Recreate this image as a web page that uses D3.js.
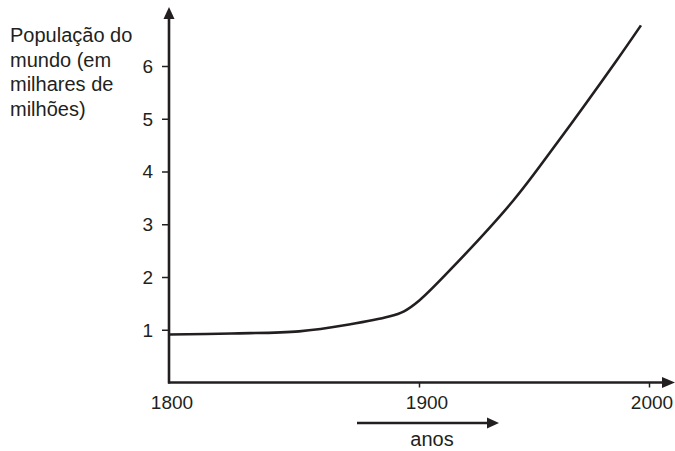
<!DOCTYPE html>
<html>
<head>
<meta charset="utf-8">
<script src="https://cdn.jsdelivr.net/npm/d3@7"></script>
<style>
  body { margin: 0; background: #fff; }
  svg text { font-family: "Liberation Sans", Arial, sans-serif; fill: #231f20; }
</style>
</head>
<body>
<svg width="675" height="451"></svg>
<script>
// data
let years = [1800, 1825, 1852, 1872, 1888, 1894, 1900, 1915, 1941, 1960, 1986, 1996.5];
let population = [0.91, 0.93, 0.97, 1.1, 1.25, 1.35, 1.55, 2.2, 3.45, 4.54, 6.11, 6.77];
let xTicks = [1900, 2000];
let xLabels = ["1800", "1900", "2000"];
let yTicks = [1, 2, 3, 4, 5, 6];
let titleLines = ["População do", "mundo (em", "milhares de", "milhões)"];

let ink = "#231f20";
let svg = d3.select("svg");

// the drawing is not evenly spaced between 1800-1900 and 1900-2000
let x = d3.scaleLinear().domain([1800, 1900, 2000]).range([169, 419, 649]);
let y = d3.scaleLinear().domain([0, 6]).range([382.5, 66]);

// axes
let yAxis = svg.append("g")
  .attr("transform", "translate(" + x(1800) + ",0)")
  .call(d3.axisLeft(y).tickValues(yTicks).tickFormat(d3.format("d"))
    .tickSize(7).tickPadding(9).tickSizeOuter(0));
yAxis.select(".domain").remove();
yAxis.selectAll("line").attr("stroke", ink).attr("stroke-width", 1.5);
yAxis.selectAll("text").attr("font-size", 19).attr("fill", ink).attr("dy", "0.34em");

let xAxis = svg.append("g")
  .attr("transform", "translate(0," + y(0) + ")")
  .call(d3.axisBottom(x).tickValues(xTicks).tickSize(5).tickFormat(""));
xAxis.select(".domain").remove();
xAxis.selectAll("line").attr("stroke", ink).attr("stroke-width", 1.5);

svg.selectAll("text.xlab")
  .data(xLabels)
  .enter()
  .append("text")
  .attr("class", "xlab")
  .attr("x", function (d) {
    return x(+d) + (d === "1900" ? 8 : 3);
  })
  .attr("y", 409)
  .attr("text-anchor", "middle")
  .attr("font-size", 19)
  .text(function (d) {
    return d;
  });

// axis lines with arrow heads
svg.append("line")
  .attr("x1", x(1800)).attr("x2", x(1800))
  .attr("y1", y(0) + 1).attr("y2", 17)
  .attr("stroke", ink).attr("stroke-width", 2.6);
svg.append("path")
  .attr("d", "M" + (x(1800) - 5.5) + ",19L" + x(1800) + ",7L" + (x(1800) + 5.5) + ",19Z")
  .attr("fill", ink);

svg.append("line")
  .attr("x1", x(1800) - 1).attr("x2", 664)
  .attr("y1", y(0)).attr("y2", y(0))
  .attr("stroke", ink).attr("stroke-width", 2.6);
svg.append("path")
  .attr("d", "M662," + (y(0) - 5.5) + "L675," + y(0) + "L662," + (y(0) + 5.5) + "Z")
  .attr("fill", ink);

// "anos" arrow
svg.append("line")
  .attr("x1", 357).attr("x2", 490)
  .attr("y1", 423).attr("y2", 423)
  .attr("stroke", ink).attr("stroke-width", 2.6);
svg.append("path")
  .attr("d", "M487,417.5L499,423L487,428.5Z")
  .attr("fill", ink);
svg.append("text")
  .attr("x", 432).attr("y", 446)
  .attr("text-anchor", "middle")
  .attr("font-size", 20)
  .text("anos");

// title
svg.selectAll("text.title")
  .data(titleLines)
  .enter()
  .append("text")
  .attr("class", "title")
  .attr("x", 10)
  .attr("y", function (d, i) {
    return 42 + i * 24.5;
  })
  .attr("font-size", 20)
  .text(function (d) {
    return d;
  });

// population curve
let line = d3.line()
  .x(function (d, i) { return x(years[i]); })
  .y(function (d) { return y(d); })
  .curve(d3.curveCatmullRom.alpha(0.5));

svg.append("path")
  .datum(population)
  .attr("d", line)
  .attr("fill", "none")
  .attr("stroke", ink)
  .attr("stroke-width", 2.6);
</script>
</body>
</html>
